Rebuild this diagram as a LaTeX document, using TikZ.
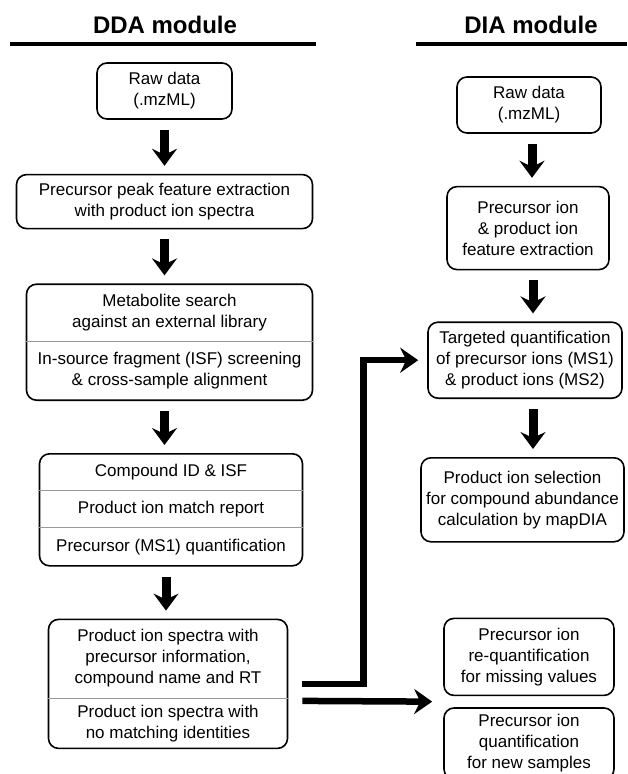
\documentclass[tikz,border=0pt]{standalone}
\usepackage{fontspec}
\setmainfont{Liberation Sans}
\usetikzlibrary{positioning, arrows.meta}

\begin{document}
\begin{tikzpicture}[
        x=1pt, y=-1pt,
        box/.style={rectangle, rounded corners=10pt, draw, line width=1.6pt, align=center, inner sep=0pt, font={\fontsize{17pt}{21pt}\selectfont}},
        part/.style={rectangle, align=center, inner sep=0pt, font={\fontsize{17pt}{21pt}\selectfont}},
        title/.style={font={\fontsize{24pt}{28pt}\selectfont\bfseries}},
        rule/.style={line width=4.5pt},
        split/.style={gray!80, line width=1pt},
        down/.style={line width=9pt, -{Stealth[length=17pt, width=25pt, inset=6pt]}, shorten <=10pt, shorten >=8pt},
        connector/.style={line width=6.5pt, -{Stealth[length=18pt, width=25pt, inset=6pt]}}
    ]
        \useasboundingbox (0,0) rectangle (627,774);

        % Titles
        \node[title] (ddatitle) at (165,25) {DDA module};
        \node[title] (diatitle) at (531,25) {DIA module};
        \draw[rule] (10,44) -- (316,44);
        \draw[rule] (416,44) -- (627,44);

        % DDA module
        \node[box, minimum width=135pt, minimum height=56pt] (ddaraw) at (164.5,91) {Raw data\\(.mzML)};
        \node[box, minimum width=296pt, minimum height=54pt, below=54pt of ddaraw] (ddapeak) {Precursor peak feature extraction\\with product ion spectra};
        \node[box, minimum width=286pt, minimum height=116pt, below=54pt of ddapeak, xshift=5pt] (ddasearch) {};
        \node[part, minimum height=58pt, below=0pt of ddasearch.north] (ddasearch1) {Metabolite search\\against an external library};
        \node[part, minimum height=58pt, below=0pt of ddasearch1] (ddasearch2) {In-source fragment (ISF) screening\\\& cross-sample alignment};
        \draw[split] (ddasearch1.south -| ddasearch.west) -- (ddasearch1.south -| ddasearch.east);

        \node[box, minimum width=263pt, minimum height=112pt, below=52pt of ddasearch, xshift=1.5pt] (ddaid) {};
        \node[part, minimum height=37pt, below=0pt of ddaid.north] (ddaid1) {Compound ID \& ISF};
        \node[part, minimum height=37pt, below=0pt of ddaid1] (ddaid2) {Product ion match report};
        \node[part, minimum height=38pt, below=0pt of ddaid2] (ddaid3) {Precursor (MS1) quantification};
        \draw[split] (ddaid1.south -| ddaid.west) -- (ddaid1.south -| ddaid.east);
        \draw[split] (ddaid2.south -| ddaid.west) -- (ddaid2.south -| ddaid.east);

        \node[box, minimum width=239pt, minimum height=129pt, below=52pt of ddaid, xshift=-3pt] (ddaspec) {};
        \node[part, minimum height=79pt, below=0pt of ddaspec.north] (ddaspec1) {Product ion spectra with\\precursor information,\\compound name and RT};
        \node[part, minimum height=50pt, below=0pt of ddaspec1] (ddaspec2) {Product ion spectra with\\no matching identities};
        \draw[split] (ddaspec1.south -| ddaspec.west) -- (ddaspec1.south -| ddaspec.east);

        \draw[down] (ddaraw.south) -- (ddaraw.south |- ddapeak.north);
        \draw[down] (ddapeak.south) -- (ddapeak.south |- ddasearch.north);
        \draw[down] ([xshift=-5pt]ddasearch.south) -- ([xshift=-5pt]ddasearch.south |- ddaid.north);
        \draw[down] ([xshift=-5pt]ddaid.south) -- ([xshift=-5pt]ddaid.south |- ddaspec.north);

        % DIA module
        \node[box, minimum width=144pt, minimum height=56pt] (diaraw) at (529,105) {Raw data\\(.mzML)};
        \node[box, minimum width=162pt, minimum height=83pt, below=52pt of diaraw, xshift=-1pt] (diafeat) {Precursor ion\\\& product ion\\feature extraction};
        \node[box, minimum width=194pt, minimum height=76pt, below=51pt of diafeat, xshift=-3pt] (diaquant) {Targeted quantification\\of precursor ions (MS1)\\\& product ions (MS2)};
        \node[box, minimum width=203pt, minimum height=84pt, below=58pt of diaquant, xshift=-2.5pt] (diasel) {Product ion selection\\for compound abundance\\calculation by mapDIA};
        \node[box, minimum width=170pt, minimum height=77pt, below=75pt of diasel, xshift=6.5pt] (diarequant) {Precursor ion\\re-quantification\\for missing values};
        \node[box, minimum width=170pt, minimum height=71pt, below=11pt of diarequant] (dianew) {Precursor ion\\quantification\\for new samples};

        \draw[down] ([xshift=3pt]diaraw.south) -- ([xshift=3pt]diaraw.south |- diafeat.north);
        \draw[down] ([xshift=5pt]diafeat.south) -- ([xshift=5pt]diafeat.south |- diaquant.north);
        \draw[down] ([xshift=8pt]diaquant.south) -- ([xshift=8pt]diaquant.south |- diasel.north);

        % DDA to DIA
        \draw[connector, shorten >=9pt] ([xshift=14pt]ddaspec.east) -- ++(61pt,0) |- (diaquant.west);
        \draw[connector, shorten >=11pt] ([xshift=14pt, yshift=-17pt]ddaspec.east) -- ([yshift=-5.5pt]diarequant.south west);
    \end{tikzpicture}
\end{document}
